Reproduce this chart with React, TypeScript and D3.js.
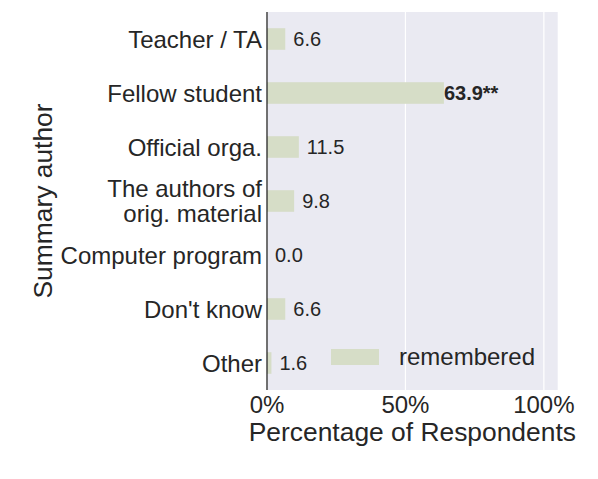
import React from "react";
import * as d3 from "d3";

const categories = [
  "Teacher / TA",
  "Fellow student",
  "Official orga.",
  "The authors of\norig. material",
  "Computer program",
  "Don't know",
  "Other",
];
const remembered = [6.6, 63.9, 11.5, 9.8, 0.0, 6.6, 1.6];
const markers = ["", "**", "", "", "", "", ""];
const xTicks = [0, 50, 100];
const seriesName = "remembered";

const width = 598;
const height = 479;
const left = 267;
const right = 557.7;
const top = 12;
const bottom = 390;
const textColor = "#262626";
const barColor = "#d6ddc7";
const font = "'Liberation Sans', Arial, sans-serif";

export default function App() {
  const x = d3.scaleLinear().domain([0, 105]).range([left, right]);
  const y = d3
    .scaleBand()
    .domain(categories)
    .range([top, bottom])
    .paddingInner(0.6)
    .paddingOuter(0.3);
  const bw = y.bandwidth();

  return (
    <div style={{ position: "absolute", left: 0, top: 0 }}>
      <svg width={width} height={height} style={{ display: "block", fontFamily: font }}>
        <rect x={0} y={0} width={width} height={height} fill="#fff" />
        <rect x={left} y={top} width={right - left} height={bottom - top} fill="#eaeaf2" />

        {/* grid */}
        {xTicks.map((t) => (
          <line key={t} x1={x(t)} x2={x(t)} y1={top} y2={bottom} stroke="#fff" strokeWidth={1.2} />
        ))}

        {/* bars */}
        {categories.map((c, i) => (
          <rect
            key={c}
            x={x(0)}
            y={y(c)}
            width={x(remembered[i]) - x(0)}
            height={bw}
            fill={barColor}
          />
        ))}

        {/* value labels */}
        {categories.map((c, i) => {
          const cy = (y(c) as number) + bw / 2;
          const bold = markers[i] !== "";
          return (
            <text
              key={c}
              x={x(remembered[i]) + (bold ? 0 : 8)}
              y={cy + 7}
              fontSize={20}
              fontWeight={bold ? "bold" : "normal"}
              fill={textColor}
            >
              {remembered[i].toFixed(1) + markers[i]}
            </text>
          );
        })}

        {/* left spine */}
        <line x1={left} x2={left} y1={top} y2={bottom} stroke="#262626" strokeWidth={1.3} />

        {/* category labels */}
        {categories.map((c) => {
          const cy = (y(c) as number) + bw / 2;
          const lines = c.split("\n");
          const lh = 24.5;
          const y0 = cy - ((lines.length - 1) * lh) / 2 + 8.6;
          return (
            <text key={c} x={left - 5} textAnchor="end" fontSize={24} fill={textColor}>
              {lines.map((l, j) => (
                <tspan key={j} x={left - 5} y={y0 + j * lh}>
                  {l}
                </tspan>
              ))}
            </text>
          );
        })}

        {/* x tick labels */}
        {xTicks.map((t) => (
          <text key={t} x={x(t)} y={413} textAnchor="middle" fontSize={24} fill={textColor}>
            {t + "%"}
          </text>
        ))}

        {/* axis titles */}
        <text x={(left + right) / 2} y={441} textAnchor="middle" fontSize={26.4} fill={textColor}>
          Percentage of Respondents
        </text>
        <text
          transform={`translate(52, ${(top + bottom) / 2}) rotate(-90)`}
          textAnchor="middle"
          fontSize={26.4}
          fill={textColor}
        >
          Summary author
        </text>

        {/* legend */}
        <rect x={331} y={349} width={48} height={16} fill={barColor} />
        <text x={399} y={365} fontSize={24} fill={textColor}>
          {seriesName}
        </text>
      </svg>
    </div>
  );
}
